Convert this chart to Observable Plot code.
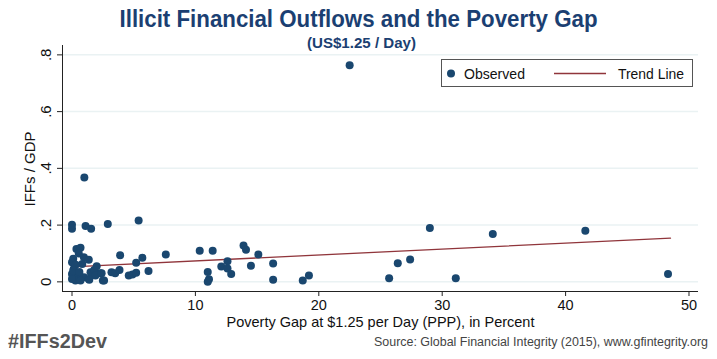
<!DOCTYPE html>
<html><head><meta charset="utf-8">
<script src="https://cdn.jsdelivr.net/npm/d3@7"></script>
<script src="https://cdn.jsdelivr.net/npm/@observablehq/plot@0.6"></script>
<style>
body{margin:0;background:#fff;}
#wrap{position:relative;width:717px;height:359px;overflow:hidden;background:#fff;}
#chart{position:absolute;left:0;top:0;}
#overlay{position:absolute;left:0;top:0;}
#legend{position:absolute;left:441px;top:59px;width:250px;height:26px;border:1px solid #555;background:#fff;}
</style></head><body>
<div id="wrap">
  <div id="chart"></div>
  <svg id="overlay" width="717" height="359" font-family="Liberation Sans, Arial, sans-serif">
    <text x="358.5" y="27" text-anchor="middle" font-weight="bold" font-size="23" fill="#1b3f72" textLength="478" lengthAdjust="spacingAndGlyphs">Illicit Financial Outflows and the Poverty Gap</text>
    <text x="361.5" y="47.5" text-anchor="middle" font-weight="bold" font-size="15" fill="#1b3f72" textLength="109" lengthAdjust="spacingAndGlyphs">(US$1.25 / Day)</text>
    <text transform="translate(35,169) rotate(-90)" text-anchor="middle" font-size="15" fill="#111">IFFs / GDP</text>
    <text x="8" y="348" font-weight="bold" font-size="20" fill="#555" textLength="99" lengthAdjust="spacingAndGlyphs">#IFFs2Dev</text>
    <text x="374" y="346" font-size="12.5" fill="#444" textLength="334" lengthAdjust="spacingAndGlyphs">Source: Global Financial Integrity (2015), www.gfintegrity.org</text>
  </svg>
  <div id="legend">
    <svg width="250" height="26" style="position:absolute;left:0;top:0;overflow:visible" font-family="Liberation Sans, Arial, sans-serif">
      <circle cx="9" cy="13.5" r="4" fill="#1a476f"></circle>
      <text x="22" y="19" font-size="14.5" fill="#111" textLength="61" lengthAdjust="spacingAndGlyphs">Observed</text>
      <line x1="112" x2="164" y1="13.5" y2="13.5" stroke="#90353b" stroke-width="1.3"></line>
      <text x="176" y="19" font-size="14.5" fill="#111" textLength="66" lengthAdjust="spacingAndGlyphs">Trend Line</text>
    </svg>
  </div>
</div>
<script>
// Poverty gap at $1.25/day (PPP), percent
const povertyGap = [
  22.5, 1.0,
  0, 0, 1.1, 1.55, 2.9, 5.4,
  0.36, 0.69, 0.55, 0.1, 0, 0.96, 0.83, 0.15, 0, 0.55, 0.96, 1.36, 0.28, 0.69, 0, 1.5, 1.8, 2.3, 2.5, 1.36, 1.9, 1.4, 0.3, 0.1, 0.6, 2.0,
  2.4, 3.2, 3.5, 3.85, 3.9, 4.6, 4.9, 5.2, 5.2, 5.7, 6.2, 7.6, 2.6,
  10.35, 11.4, 13.9, 14.1, 15.1, 12.6, 12.1, 12.6, 12.9, 14.5, 16.3, 11.0, 11.1, 11.0, 16.3, 18.7, 19.2,
  29.0, 34.1, 41.6, 48.3, 25.7, 26.4, 27.4, 31.1
];
// Illicit financial outflows / GDP
const iffsGdp = [
  0.763, 0.368,
  0.201, 0.187, 0.197, 0.187, 0.204, 0.216,
  0.116, 0.12, 0.10, 0.081, 0.069, 0.087, 0.063, 0.046, 0.028, 0.022, 0.016, 0.01, 0.005, 0.005, 0.01, 0.034, 0.042, 0.03, 0.005, 0.078, 0.022, 0.007, 0.06, 0.04, 0.035, 0.055,
  0.03, 0.034, 0.03, 0.042, 0.094, 0.022, 0.026, 0.032, 0.067, 0.085, 0.038, 0.096, 0.005,
  0.11, 0.11, 0.128, 0.113, 0.096, 0.073, 0.054, 0.047, 0.028, 0.057, 0.065, 0.035, 0.009, 0.0, 0.007, 0.005, 0.022,
  0.19, 0.169, 0.18, 0.028, 0.013, 0.066, 0.079, 0.013
];
// Fitted trend line endpoints
const trendX = [0, 48.5];
const trendY = [0.053, 0.154];
const xTicks = [0, 10, 20, 30, 40, 50];
const yTicks = [0, 0.2, 0.4, 0.6, 0.8];
const yTickLabels = ["0", ".2", ".4", ".6", ".8"];

const points = povertyGap.map((x, i) => ({x, y: iffsGdp[i]}));
const trend = trendX.map((x, i) => ({x, y: trendY[i]}));
const yLab = yTicks.map((v, i) => ({v, t: yTickLabels[i]}));
const xDom = [-0.77, 50.77];
const yDom = [-0.034, 0.833];

const chart = Plot.plot({
  width: 717, height: 359,
  marginLeft: 62, marginRight: 19, marginTop: 45, marginBottom: 68,
  style: {fontFamily: "Liberation Sans, Arial, sans-serif", fontSize: "14.5px", color: "#111", background: "transparent"},
  x: {domain: xDom},
  y: {domain: yDom},
  marks: [
    Plot.ruleY(yTicks, {stroke: "#eaf2f3", strokeWidth: 1.5}),
    Plot.ruleX([xDom[0]], {stroke: "#222", strokeWidth: 1}),
    Plot.ruleY([yDom[0]], {stroke: "#222", strokeWidth: 1}),
    Plot.axisX({ticks: xTicks, tickSize: 5, tickPadding: 3, tickFormat: d => String(d), label: "Poverty Gap at $1.25 per Day (PPP), in Percent", labelAnchor: "center", labelOffset: 35, labelArrow: "none", stroke: "#222", fill: "#111"}),
    Plot.axisY({ticks: yTicks, tickSize: 5, tickFormat: () => "", label: null, stroke: "#222"}),
    Plot.text(yLab, {x: xDom[0], y: "v", text: "t", rotate: -90, dx: -16, textAnchor: "middle", fontSize: 15, fill: "#111"}),
    Plot.line(trend, {x: "x", y: "y", stroke: "#90353b", strokeWidth: 1.3}),
    Plot.dot(points, {x: "x", y: "y", r: 4, fill: "#1a476f", stroke: "none"})
  ]
});
document.getElementById("chart").appendChild(chart);
</script>
</body></html>
